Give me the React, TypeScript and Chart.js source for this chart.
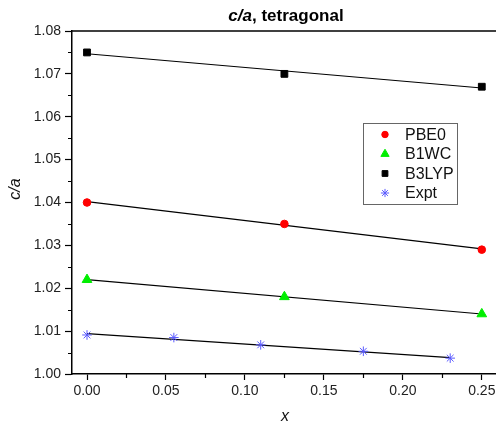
import { useEffect, useRef } from "react";
import { Chart, registerables } from "chart.js";
import { drawPoint } from "chart.js/helpers";
Chart.register(...registerables);

const xDFT = [0, 0.125, 0.25];
const pbe0 = [1.04, 1.035, 1.029];
const b1wc = [1.022, 1.018, 1.014];
const b3lyp = [1.075, 1.07, 1.067];
const xExpt = [0, 0.055, 0.11, 0.175, 0.23];
const expt = [1.0091, 1.0085, 1.0068, 1.0053, 1.0037];
const fitX = [0, 0.25];
const pbe0Fit = [1.0402, 1.0292];
const b1wcFit = [1.022, 1.014];
const b3lypFit = [1.0747, 1.0667];
const exptFitX = [0, 0.23];
const exptFit = [1.0094, 1.0038];
const xTicks = [0, 0.05, 0.1, 0.15, 0.2, 0.25];
const yTicks = [1.0, 1.01, 1.02, 1.03, 1.04, 1.05, 1.06, 1.07, 1.08];
const xMinor = [0.025, 0.075, 0.125, 0.175, 0.225];
const yMinor = [1.005, 1.015, 1.025, 1.035, 1.045, 1.055, 1.065, 1.075];
const legendNames = ["PBE0", "B1WC", "B3LYP", "Expt"];

const FONT = "'Liberation Sans', Arial, sans-serif";
const pts = (xs: number[], ys: number[]) => xs.map((x, i) => ({ x, y: ys[i] }));

export default function App() {
  const ref = useRef<HTMLCanvasElement>(null);
  useEffect(() => {
    document.body.style.margin = "0";
    const fitStyle = {
      showLine: true,
      borderColor: "#000",
      borderWidth: 1.2,
      pointRadius: 0,
      pointHoverRadius: 0,
    };
    const decor = {
      id: "decor",
      afterDraw(chart: any) {
        const ctx = chart.ctx;
        const a = chart.chartArea;
        const xs = chart.scales.x;
        const ys = chart.scales.y;
        ctx.save();
        ctx.strokeStyle = "#000";
        ctx.lineWidth = 1.5;
        ctx.beginPath();
        ctx.moveTo(a.left, a.top);
        ctx.lineTo(a.right, a.top);
        ctx.stroke();
        ctx.lineWidth = 1.2;
        ctx.beginPath();
        for (const v of yMinor) {
          const py = Math.round(ys.getPixelForValue(v)) + 0.5;
          ctx.moveTo(a.left, py);
          ctx.lineTo(a.left - 4, py);
        }
        for (const v of xMinor) {
          const px = Math.round(xs.getPixelForValue(v)) + 0.5;
          ctx.moveTo(px, a.bottom);
          ctx.lineTo(px, a.bottom + 4);
        }
        ctx.stroke();
        // title
        ctx.fillStyle = "#000";
        ctx.textBaseline = "alphabetic";
        const t1 = "c/a";
        const t2 = ", tetragonal";
        ctx.font = `italic bold 17px ${FONT}`;
        const w1 = ctx.measureText(t1).width;
        ctx.font = `bold 17px ${FONT}`;
        const w2 = ctx.measureText(t2).width;
        const cx = 286;
        const sx = cx - (w1 + w2) / 2;
        ctx.font = `italic bold 17px ${FONT}`;
        ctx.textAlign = "left";
        ctx.fillText(t1, sx, 21);
        ctx.font = `bold 17px ${FONT}`;
        ctx.fillText(t2, sx + w1, 21);
        // axis titles
        ctx.font = `italic 16px ${FONT}`;
        ctx.fillStyle = "#111";
        ctx.textAlign = "center";
        ctx.textBaseline = "middle";
        ctx.fillText("x", 285, 417);
        ctx.save();
        ctx.translate(16, 189);
        ctx.rotate(-Math.PI / 2);
        ctx.fillText("c/a", 0, 0);
        ctx.restore();
        // legend
        const lx = 363, ly = 123, lw = 94, lh = 81;
        ctx.fillStyle = "#fff";
        ctx.fillRect(lx, ly, lw, lh);
        ctx.strokeStyle = "#666";
        ctx.lineWidth = 1;
        ctx.strokeRect(lx + 0.5, ly + 0.5, lw, lh);
        ctx.font = `16px ${FONT}`;
        ctx.textAlign = "left";
        ctx.textBaseline = "middle";
        for (let i = 0; i < 4; i++) {
          const ds = chart.data.datasets[i];
          const y = ly + 11.5 + i * 19.5;
          ctx.fillStyle = ds.pointBackgroundColor;
          ctx.strokeStyle = ds.pointBorderColor;
          ctx.lineWidth = ds.pointBorderWidth;
          drawPoint(ctx, { pointStyle: ds.pointStyle, radius: ds.pointRadius * 0.85, borderWidth: ds.pointBorderWidth, rotation: 0 }, 385, y);
          ctx.fillStyle = "#111";
          ctx.fillText(legendNames[i], 405, y + 1);
        }
        ctx.restore();
      },
    };
    const chart = new Chart(ref.current!, {
      type: "scatter",
      data: {
        datasets: [
          { label: "PBE0", data: pts(xDFT, pbe0), pointStyle: "circle", pointRadius: 3.8, pointBackgroundColor: "#ff0000", pointBorderColor: "#ff0000", pointBorderWidth: 1, order: 0 } as any,
          { label: "B1WC", data: pts(xDFT, b1wc), pointStyle: "triangle", pointRadius: 5.6, pointBackgroundColor: "#00ee00", pointBorderColor: "#00ee00", pointBorderWidth: 1, order: 0 },
          { label: "B3LYP", data: pts(xDFT, b3lyp), pointStyle: "rect", pointRadius: 4.8, pointBackgroundColor: "#000", pointBorderColor: "#000", pointBorderWidth: 1, order: 0 },
          { label: "Expt", data: pts(xExpt, expt), pointStyle: "star", pointRadius: 4.8, pointBackgroundColor: "#5a5aff", pointBorderColor: "#5a5aff", pointBorderWidth: 1, order: 0 },
          { label: "fit1", data: pts(fitX, pbe0Fit), ...fitStyle, order: 1 },
          { label: "fit2", data: pts(fitX, b1wcFit), ...fitStyle, order: 1 },
          { label: "fit3", data: pts(fitX, b3lypFit), ...fitStyle, order: 1 },
          { label: "fit4", data: pts(exptFitX, exptFit), ...fitStyle, order: 1 },
        ],
      },
      options: {
        animation: false,
        responsive: true,
        maintainAspectRatio: false,
        layout: { autoPadding: false, padding: { top: 31, right: 0, left: 0, bottom: 0 } },
        plugins: { legend: { display: false }, tooltip: { enabled: false }, title: { display: false } },
        scales: {
          x: {
            type: "linear",
            min: -0.0095,
            max: 0.259,
            afterBuildTicks: (s: any) => { s.ticks = xTicks.map((v) => ({ value: v })); },
            afterFit: (s: any) => { s.height = 53; s.paddingLeft = 0; s.paddingRight = 0; },
            grid: { drawOnChartArea: false, drawTicks: true, tickLength: 6, tickWidth: 1.2, tickColor: "#000" },
            border: { display: true, color: "#000", width: 1.5 },
            ticks: { color: "#222", padding: 3, font: { size: 14, family: FONT }, callback: (v: any) => Number(v).toFixed(2), maxRotation: 0, autoSkip: false },
          },
          y: {
            type: "linear",
            min: 1.0,
            max: 1.08,
            afterBuildTicks: (s: any) => { s.ticks = yTicks.map((v) => ({ value: v })); },
            afterFit: (s: any) => { s.width = 72; s.paddingTop = 0; s.paddingBottom = 0; },
            grid: { drawOnChartArea: false, drawTicks: true, tickLength: 7, tickWidth: 1.2, tickColor: "#000" },
            border: { display: true, color: "#000", width: 1.5 },
            ticks: { color: "#222", padding: 4, font: { size: 14, family: FONT }, callback: (v: any) => Number(v).toFixed(2), autoSkip: false },
          },
        },
      },
      plugins: [decor],
    });
    return () => chart.destroy();
  }, []);
  return (
    <div style={{ width: 496, height: 427, position: "relative", background: "#fff" }}>
      <canvas ref={ref} />
    </div>
  );
}
